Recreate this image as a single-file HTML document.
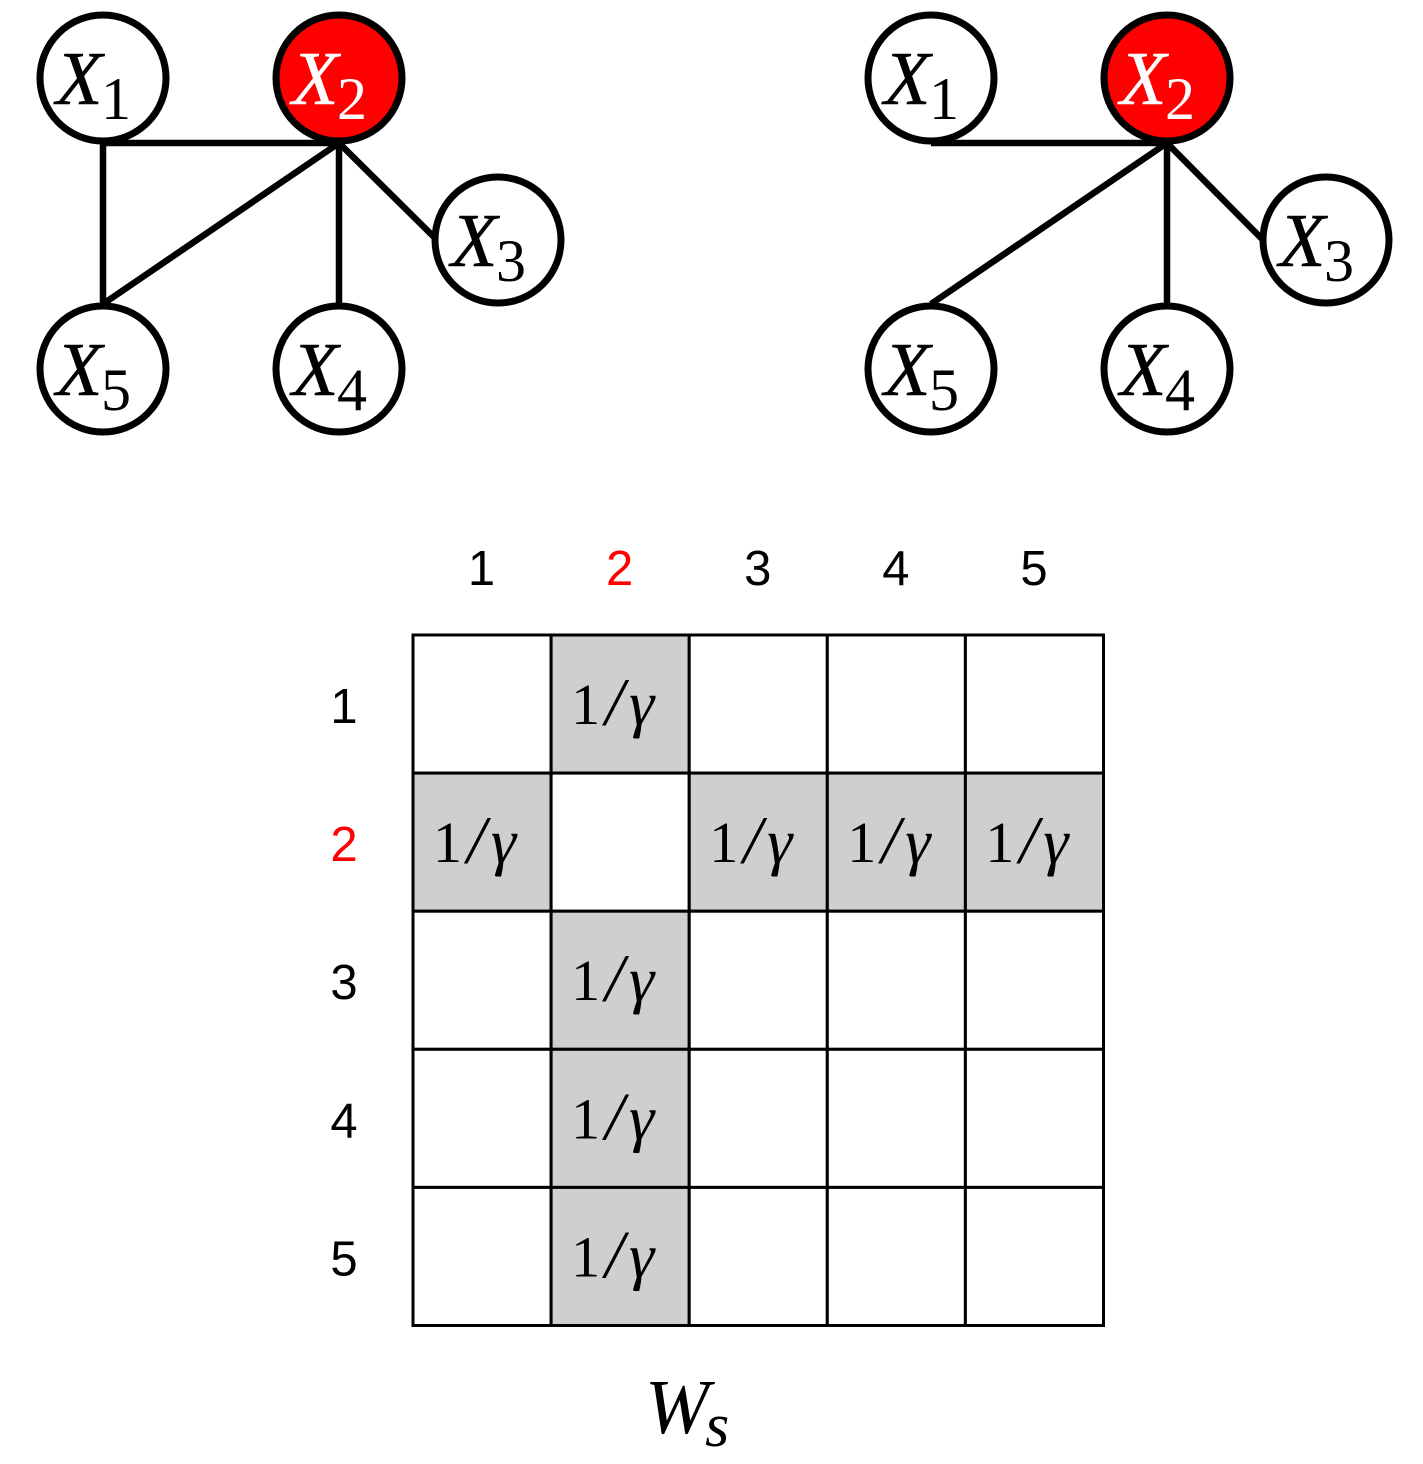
<!DOCTYPE html>
<html>
<head>
<meta charset="utf-8">
<style>
html,body{margin:0;padding:0;background:#fff;}
svg{display:block;}
text{font-family:"Liberation Serif","DejaVu Serif",serif;fill:#000;}
.x{font-style:italic;font-size:76px;}
.sub{font-size:60px;}
.lab{font-family:"Liberation Sans",sans-serif;font-size:49px;text-anchor:middle;}
.val{font-size:58px;}
</style>
</head>
<body>
<svg id="root" xmlns="http://www.w3.org/2000/svg" width="1423" height="1464" viewBox="0 0 1423 1464">
  <rect width="1423" height="1464" fill="#fff"/>
  <g id="graphs"></g>
  <g id="matrix"></g>
  <text x="645" y="1433" style="font-style:italic;font-size:77px">W<tspan dx="-4" dy="13" style="font-size:62px">s</tspan></text>
</svg>
<script>
var NS = 'http://www.w3.org/2000/svg';
var nodeIds = [1, 2, 3, 4, 5];
var highlighted = 2;
var colLabels = ['1', '2', '3', '4', '5'];
var rowLabels = ['1', '2', '3', '4', '5'];
var matrixValues = [
  [0, 1, 0, 0, 0],
  [1, 0, 1, 1, 1],
  [0, 1, 0, 0, 0],
  [0, 1, 0, 0, 0],
  [0, 1, 0, 0, 0]
];

function make(tag, attrs, parent) {
  var el = document.createElementNS(NS, tag);
  for (var k in attrs) el.setAttribute(k, attrs[k]);
  parent.appendChild(el);
  return el;
}

/* graphs */
var graphs = document.getElementById('graphs');
var layout = {1:[103,78], 2:[339,78], 3:[498,240], 4:[339,369], 5:[103,369]};
var edgeLines = [
  { name:'left', dx:0, lines:[[103,143,339,143],[103,143,103,304],[339,143,103,304],[339,143,339,304],[339,143,437,240]] },
  { name:'right', dx:828, lines:[[103,143,339,143],[339,143,103,304],[339,143,339,304],[339,143,435,240]] }
];
edgeLines.forEach(function (g) {
  var group = make('g', {}, graphs);
  
  
  g.lines.forEach(function (l) {
    var e = make('line', {x1:l[0]+g.dx, y1:l[1], x2:l[2]+g.dx, y2:l[3], stroke:'#000', 'stroke-width':6.5}, group);
    
    
  });
  nodeIds.forEach(function (id) {
    var p = layout[id];
    var cx = p[0] + g.dx;
    var cy = p[1];
    var hot = id === highlighted;
    var c = make('circle', {cx:cx, cy:cy, r:63, fill:hot ? '#ff0000' : '#fff', stroke:'#000', 'stroke-width':7}, group);
    
    
    var color = hot ? '#fff' : '#000';
    var t = make('text', {x:cx - 47, y:cy + 26, class:'x', style:'stroke:' + color + ';stroke-width:0.5;fill:' + color}, group);
    
    
    t.textContent = 'X';
    var s = make('text', {x:cx - 2, y:cy + 41, class:'sub', style:'fill:' + color}, group);
    
    
    s.textContent = String(id);
  });
});

/* matrix */
var matrix = document.getElementById('matrix');
var gridX = 413, gridY = 635, cell = 138.1;
function xAt(i) { return gridX + i * cell; }
function yAt(i) { return gridY + i * cell; }

matrixValues.forEach(function (row, r) {
  row.forEach(function (v, c) {
    var rect = make('rect', {x:xAt(c), y:yAt(r), width:cell, height:cell, fill:v ? '#d0cece' : '#fff', stroke:'#000', 'stroke-width':3}, matrix);
    
    
  });
});
matrixValues.forEach(function (row, r) {
  row.forEach(function (v, c) {
    if (!v) return;
    var t = make('text', {x:xAt(c) + 20, y:yAt(r) + 89, class:'val'}, matrix);
    
    
    t.textContent = '1';
    var sl = make('tspan', {dx:5, dy:1, style:'font-style:italic;font-size:68px'}, t);
    sl.textContent = '/';
    var g = make('tspan', {dx:5, style:'font-style:italic;font-size:64px'}, t);
    g.textContent = '\u03B3';
  });
});
colLabels.forEach(function (label, i) {
  var t = make('text', {x:xAt(i) + cell / 2 - 0.5, y:585, class:'lab', style:'fill:' + (Number(label) === highlighted ? '#ff0000' : '#000')}, matrix);
  
  
  t.textContent = label;
});
rowLabels.forEach(function (label, i) {
  var t = make('text', {x:344, y:yAt(i) + 88, class:'lab', style:'fill:' + (Number(label) === highlighted ? '#ff0000' : '#000')}, matrix);
  
  
  t.textContent = label;
});
</script>
</body>
</html>
